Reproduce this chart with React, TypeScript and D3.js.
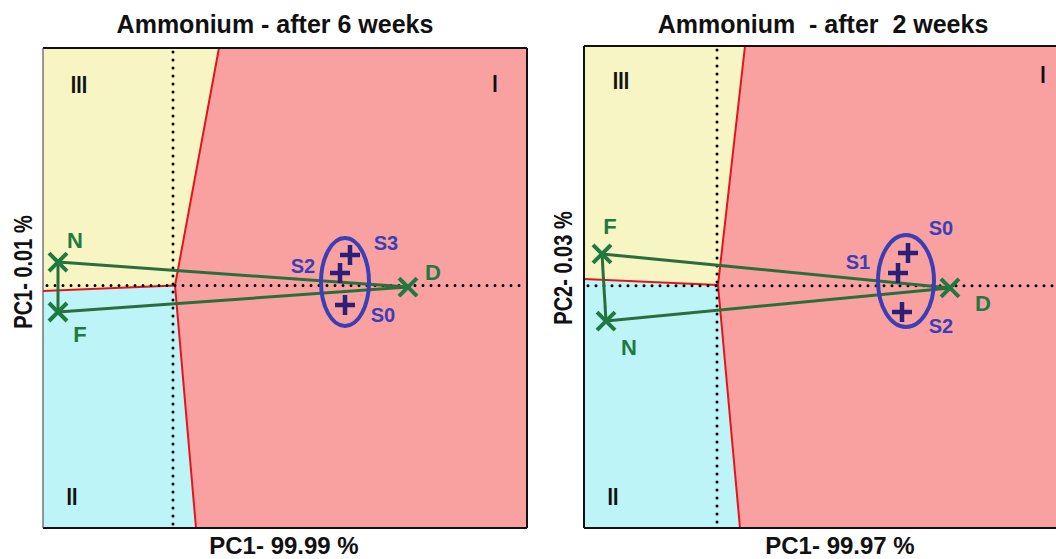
import * as d3 from "d3";

// ---- data ----
const TITLES = ["Ammonium - after 6 weeks", "Ammonium  - after  2 weeks"];
const X_LABELS = ["PC1- 99.99 %", "PC1- 99.97 %"];
const Y_LABELS = ["PC1- 0.01 %", "PC2- 0.03 %"];
const REGION_NAMES = ["I", "II", "III"];

const X_DOMAINS: [number, number][] = [[-0.65, 1.77], [-0.665, 1.755]];
const Y_DOMAINS: [number, number][] = [[-1.02, 1], [-1.01, 1]];

// treatments (green crosses)
const TREATMENTS_6W = [
  { name: "N", pc1: -0.575, pc2: 0.099 },
  { name: "F", pc1: -0.575, pc2: -0.111 },
  { name: "D", pc1: 1.175, pc2: -0.006 },
];
const TREATMENTS_2W = [
  { name: "F", pc1: -0.575, pc2: 0.133 },
  { name: "N", pc1: -0.555, pc2: -0.147 },
  { name: "D", pc1: 1.165, pc2: -0.009 },
];
const LINKS = [["N", "D"], ["F", "D"], ["N", "F"]];

// samples (blue plus signs)
const SAMPLES_6W = [
  { name: "S3", pc1: 0.885, pc2: 0.129 },
  { name: "S2", pc1: 0.835, pc2: 0.053 },
  { name: "S0", pc1: 0.86, pc2: -0.082 },
];
const SAMPLES_2W = [
  { name: "S0", pc1: 0.955, pc2: 0.137 },
  { name: "S1", pc1: 0.905, pc2: 0.053 },
  { name: "S2", pc1: 0.925, pc2: -0.109 },
];

// sample group ellipse: centre and radii in PC units
const ELLIPSE_6W = { pc1: 0.86, pc2: 0.015, r1: 0.12, r2: 0.185 };
const ELLIPSE_2W = { pc1: 0.945, pc2: 0.02, r1: 0.14, r2: 0.192 };

// class boundaries: top, centre, bottom, left
const BOUNDARY_6W = [[0.23, 1], [0.01, 0], [0.115, -1.02], [-0.65, -0.023]];
const BOUNDARY_2W = [[0.14, 1], [0.005, 0.003], [0.115, -1.01], [-0.665, 0.028]];

const TREATMENTS = [TREATMENTS_6W, TREATMENTS_2W];
const SAMPLES = [SAMPLES_6W, SAMPLES_2W];
const ELLIPSES = [ELLIPSE_6W, ELLIPSE_2W];
const BOUNDARIES = [BOUNDARY_6W, BOUNDARY_2W];

// ---- layout ----
const LAYOUT = [
  {
    left: 43, top: 48, width: 484, height: 480, titleX: 275, xLabelX: 284, yLabelX: 32, yLabelY: 272,
    roman: [[495, 92], [72, 505], [79, 93]],
    labelOffsets: { N: [17, -22], F: [22, 22], D: [25, -15], S3: [36, -12], S2: [-37, -7], S0: [38, 10] } as Record<string, number[]>,
  },
  {
    left: 584, top: 46, width: 484, height: 482, titleX: 823, xLabelX: 840, yLabelX: 572, yLabelY: 268,
    roman: [[1043, 83], [613, 505], [621, 89]],
    labelOffsets: { F: [8, -27], N: [23, 26], D: [33, 16], S0: [33, -25], S1: [-40, -11], S2: [39, 14] } as Record<string, number[]>,
  },
];

const FONT = "'Liberation Sans', Arial, sans-serif";
const YELLOW = "#f7f5c4";
const CYAN = "#bdf4f7";
const PINK = "#f9a1a1";
const RED = "#e3151b";
const GREEN = "#1f7a40";
const GREEN_LINE = "#2b6e3c";
const BLUE = "#3b3fb5";
const NAVY = "#2b1f78";

function Panel({ idx }: { idx: number }) {
  const L = LAYOUT[idx];
  const [x0, x1] = X_DOMAINS[idx];
  const [y0, y1] = Y_DOMAINS[idx];
  const x = d3.scaleLinear().domain(X_DOMAINS[idx]).range([L.left, L.left + L.width]);
  const y = d3.scaleLinear().domain(Y_DOMAINS[idx]).range([L.top + L.height, L.top]);
  const [bTop, bCenter, bBottom, bLeft] = BOUNDARIES[idx] as [number, number][];

  const area = d3.line<[number, number]>().x(d => x(d[0])).y(d => y(d[1])).curve(d3.curveLinearClosed);
  const path = d3.line<[number, number]>().x(d => x(d[0])).y(d => y(d[1]));

  const treat = TREATMENTS[idx];
  const byName = (n: string) => treat.find(t => t.name === n)!;
  const ell = ELLIPSES[idx];

  return (
    <g>
      {/* class regions */}
      <path d={area([[x0, y1], bTop, bCenter, bLeft])!} fill={YELLOW} />
      <path d={area([bLeft, bCenter, bBottom, [x0, y0]])!} fill={CYAN} />
      <path d={area([bTop, [x1, y1], [x1, y0], bBottom, bCenter])!} fill={PINK} />

      {/* boundaries */}
      <path d={path([bTop, bCenter, bBottom])!} fill="none" stroke={RED} strokeWidth={2} />
      <path d={path([bCenter, bLeft])!} fill="none" stroke={RED} strokeWidth={2} />

      {/* zero lines */}
      <line x1={x(0)} x2={x(0)} y1={y(y1) + 4} y2={y(y0)} stroke="#000" strokeWidth={3}
        strokeDasharray="0 8" strokeLinecap="round" />
      <line x1={x(x0) + 4} x2={x(x1)} y1={y(0)} y2={y(0)} stroke="#000" strokeWidth={3}
        strokeDasharray="0 8" strokeLinecap="round" />

      {/* treatment links */}
      {LINKS.map(([a, b]) => (
        <line key={a + b} x1={x(byName(a).pc1)} y1={y(byName(a).pc2)} x2={x(byName(b).pc1)} y2={y(byName(b).pc2)}
          stroke={GREEN_LINE} strokeWidth={3} />
      ))}

      {/* sample ellipse */}
      <ellipse cx={x(ell.pc1)} cy={y(ell.pc2)} rx={x(ell.pc1 + ell.r1) - x(ell.pc1)} ry={y(ell.pc2) - y(ell.pc2 + ell.r2)}
        fill="none" stroke={BLUE} strokeWidth={4} />

      {SAMPLES[idx].map(s => (
        <g key={s.name}>
          <path transform={`translate(${x(s.pc1)},${y(s.pc2)})`} d="M-10,0H10M0,-10V10" stroke={NAVY} strokeWidth={4.5} />
          <text x={x(s.pc1) + L.labelOffsets[s.name][0]} y={y(s.pc2) + L.labelOffsets[s.name][1]}
            textAnchor="middle" dominantBaseline="central" fontFamily={FONT} fontWeight="bold" fontSize={20} fill={BLUE}>
            {s.name}
          </text>
        </g>
      ))}

      {treat.map(t => (
        <g key={t.name}>
          <path transform={`translate(${x(t.pc1)},${y(t.pc2)})`} d="M-9,-9L9,9M-9,9L9,-9" stroke={GREEN} strokeWidth={4} />
          <text x={x(t.pc1) + L.labelOffsets[t.name][0]} y={y(t.pc2) + L.labelOffsets[t.name][1]}
            textAnchor="middle" dominantBaseline="central" fontFamily={FONT} fontWeight="bold" fontSize={22} fill={GREEN}>
            {t.name}
          </text>
        </g>
      ))}

      {/* region names */}
      {REGION_NAMES.map((r, i) => (
        <text key={r} transform={`translate(${L.roman[i][0]},${L.roman[i][1]}) scale(0.85,1)`} textAnchor="middle"
          fontFamily={FONT} fontWeight="bold" fontSize={23} fill="#111">{r}</text>
      ))}

      {/* frame */}
      <line x1={L.left} x2={L.left + L.width} y1={L.top} y2={L.top} stroke="#111" strokeWidth={2} />
      <line x1={L.left} x2={L.left + L.width} y1={L.top + L.height} y2={L.top + L.height} stroke="#111" strokeWidth={2} />
      <line x1={L.left} x2={L.left} y1={L.top} y2={L.top + L.height} stroke={idx === 0 ? "#555" : "#111"} strokeWidth={idx === 0 ? 1.2 : 2} />
      <line x1={L.left + L.width} x2={L.left + L.width} y1={L.top} y2={L.top + L.height} stroke="#111" strokeWidth={2} />

      {/* titles */}
      <text x={L.titleX} y={33} textAnchor="middle" fontFamily={FONT} fontWeight="bold" fontSize={25}
        fill="#111" style={{ whiteSpace: "pre" }}>{TITLES[idx]}</text>
      <text x={L.xLabelX} y={554} textAnchor="middle" fontFamily={FONT} fontWeight="bold" fontSize={24} fill="#111">
        {X_LABELS[idx]}
      </text>
      <text transform={`translate(${L.yLabelX},${L.yLabelY}) rotate(-90) scale(0.8,1)`} textAnchor="middle"
        fontFamily={FONT} fontWeight="bold" fontSize={25} fill="#111">{Y_LABELS[idx]}</text>
    </g>
  );
}

export default function App() {
  return (
    <svg width={1056} height={559} style={{ position: "absolute", left: 0, top: 0, background: "#fff" }}>
      <Panel idx={0} />
      <Panel idx={1} />
    </svg>
  );
}
